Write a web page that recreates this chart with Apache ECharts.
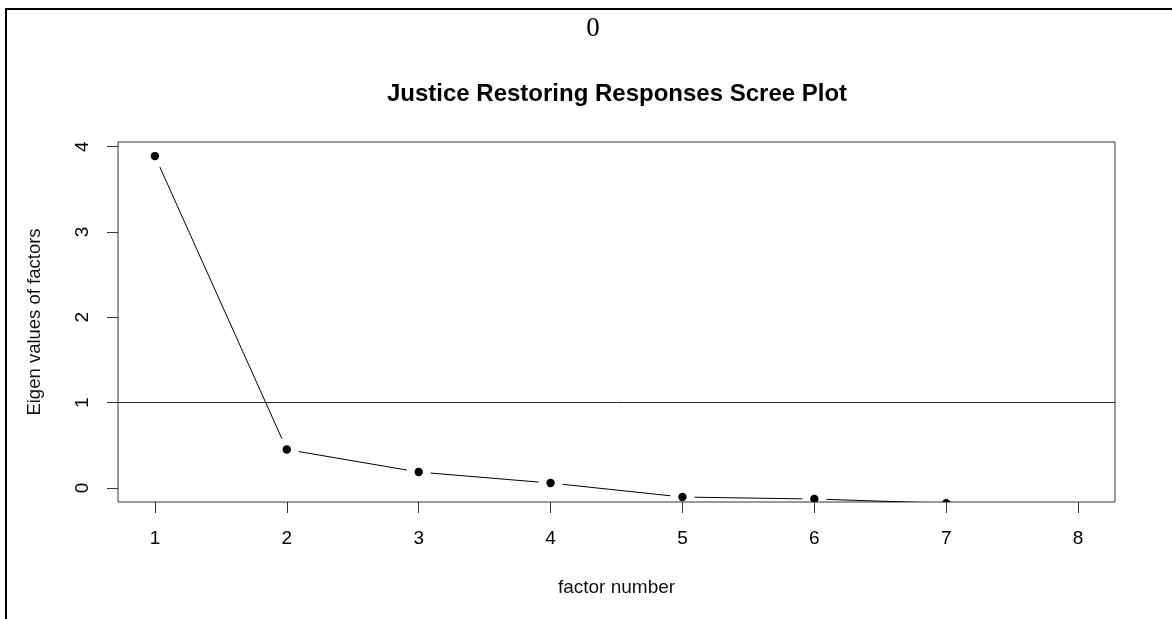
<!DOCTYPE html>
<html>
<head>
<meta charset="utf-8">
<script src="https://cdn.jsdelivr.net/npm/echarts@6/dist/echarts.min.js"></script>
<style>
  html, body { margin: 0; padding: 0; background: #fff; }
  #chart { width: 1172px; height: 619px; }
</style>
</head>
<body>
<div id="chart"></div>
<script>
// ---- data ----
const factors = [1, 2, 3, 4, 5, 6, 7, 8];
const eigenValues = [3.89, 0.45, 0.186, 0.057, -0.107, -0.13, -0.18, -0.26];
const xTickValues = [1, 2, 3, 4, 5, 6, 7, 8];
const yTickValues = [0, 1, 2, 3, 4];
const referenceLine = 1;
const titleText = 'Justice Restoring Responses Scree Plot';
const xAxisName = 'factor number';
const yAxisName = 'Eigen values of factors';
const topLabel = '0';

// ---- chart ----
const chart = echarts.init(document.getElementById('chart'), null, { renderer: 'canvas' });
const sans = 'Liberation Sans, Arial, Helvetica, sans-serif';
const gap = 12;

const pointData = factors.map((f, i) => [f, eigenValues[i]]);

chart.setOption({
  animation: false,
  backgroundColor: '#fff',
  title: {
    text: titleText,
    left: 617,
    top: 82,
    padding: 0,
    textAlign: 'center',
    textStyle: { fontFamily: sans, fontSize: 24, fontWeight: 'bold', color: '#000' }
  },
  graphic: [
    { type: 'line', shape: { x1: 5, y1: 9, x2: 1172, y2: 9 }, style: { stroke: '#000', lineWidth: 2 } },
    { type: 'line', shape: { x1: 6, y1: 8, x2: 6, y2: 619 }, style: { stroke: '#000', lineWidth: 2 } },
    { type: 'text', x: 593, y: 29, style: { text: topLabel, font: '27px "Liberation Serif", "Times New Roman", serif', fill: '#000', textAlign: 'center', textVerticalAlign: 'middle' } }
  ],
  grid: {
    left: 118, top: 142, width: 997, height: 360,
    show: true, borderColor: '#333', borderWidth: 1, backgroundColor: 'transparent'
  },
  xAxis: {
    type: 'value',
    min: 0.72, max: 8.28,
    name: xAxisName,
    nameLocation: 'middle',
    nameGap: 76,
    nameTextStyle: { fontFamily: sans, fontSize: 19, color: '#111' },
    axisLine: { show: false, onZero: false },
    axisTick: { show: true, length: 11, customValues: xTickValues, lineStyle: { color: '#333', width: 1 } },
    axisLabel: { show: true, margin: 27, customValues: xTickValues, fontFamily: sans, fontSize: 19, color: '#000' },
    splitLine: { show: false }
  },
  yAxis: {
    type: 'value',
    min: -0.165, max: 4.055,
    name: yAxisName,
    nameLocation: 'middle',
    nameRotate: 90,
    nameGap: 74,
    nameTextStyle: { fontFamily: sans, fontSize: 18.5, color: '#111' },
    axisLine: { show: false, onZero: false },
    axisTick: { show: true, length: 11, customValues: yTickValues, lineStyle: { color: '#333', width: 1 } },
    axisLabel: { show: true, margin: 26, rotate: 90, customValues: yTickValues, fontFamily: sans, fontSize: 19, color: '#000' },
    splitLine: { show: false }
  },
  series: [
    {
      type: 'custom',
      clip: true,
      data: pointData,
      renderItem: function (params, api) {
        const i = params.dataIndex;
        const p = api.coord([api.value(0), api.value(1)]);
        const children = [
          { type: 'circle', shape: { cx: p[0], cy: p[1], r: 4.2 }, style: { fill: '#000' } }
        ];
        if (i < factors.length - 1) {
          const q = api.coord([factors[i + 1], eigenValues[i + 1]]);
          const dx = q[0] - p[0], dy = q[1] - p[1];
          const len = Math.hypot(dx, dy);
          if (len > 2 * gap) {
            const ux = dx / len, uy = dy / len;
            children.push({
              type: 'line',
              shape: { x1: p[0] + ux * gap, y1: p[1] + uy * gap, x2: q[0] - ux * gap, y2: q[1] - uy * gap },
              style: { stroke: '#000', lineWidth: 1 }
            });
          }
        }
        return { type: 'group', children: children };
      },
      markLine: {
        silent: true,
        symbol: 'none',
        label: { show: false },
        lineStyle: { color: '#222', type: 'solid', width: 1 },
        data: [{ yAxis: referenceLine }]
      }
    }
  ]
});
</script>
</body>
</html>
